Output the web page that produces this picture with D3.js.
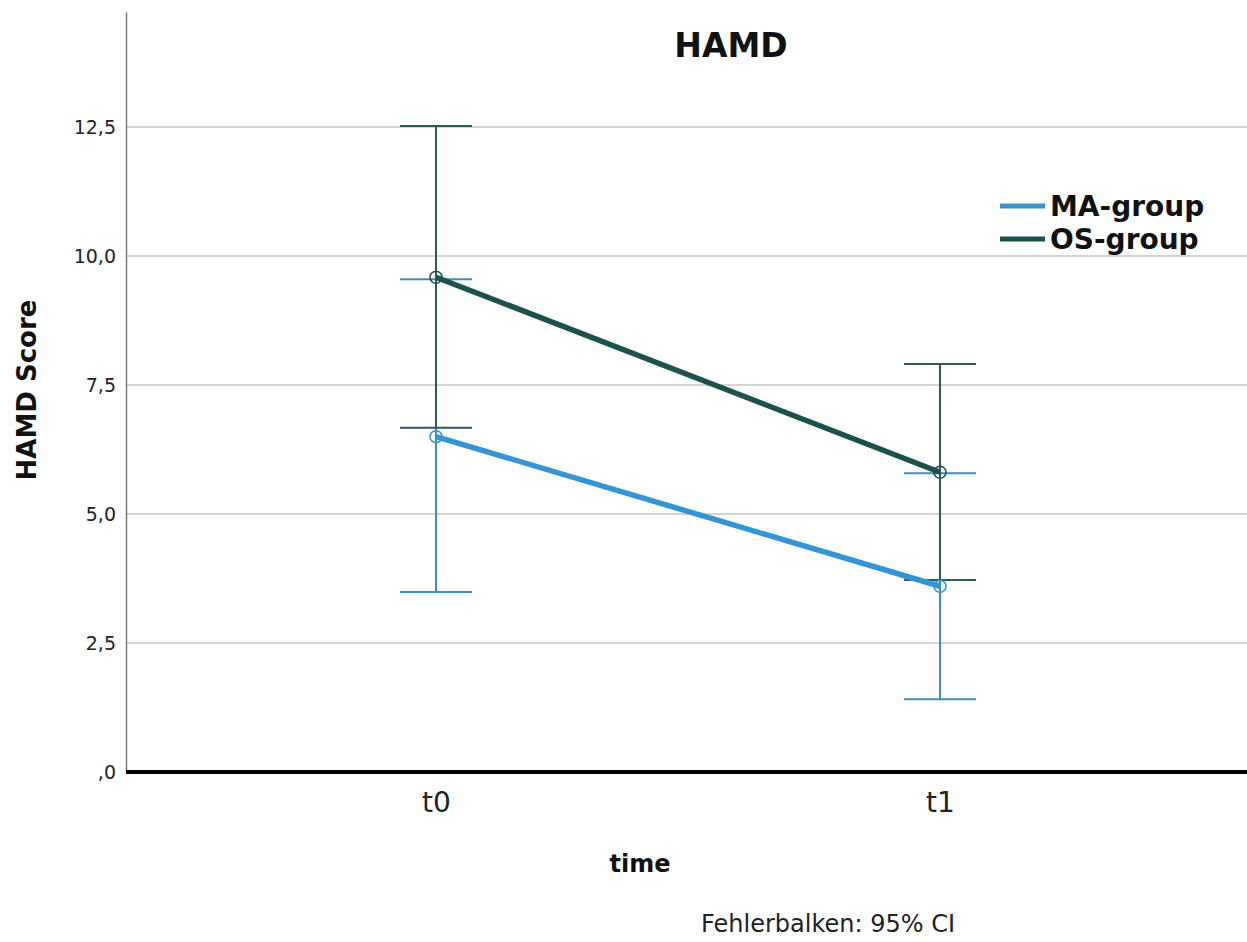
<!DOCTYPE html>
<html lang="en">
<head>
<title>HAMD</title>
<meta charset="utf-8">
<script src="https://cdn.jsdelivr.net/npm/d3@7"></script>
<style type="text/css">
body { margin: 0; background: #fff; font-family: "DejaVu Sans", sans-serif; }
</style>
</head>
<body>
<div id="vis"></div>
<script>

/* Data */
var times = ['t0', 't1'];
var groups = ['MA-group', 'OS-group'];
var maMean = [6.5, 3.6];
var maLow = [3.49, 1.41];
var maHigh = [9.55, 5.79];
var osMean = [9.59, 5.81];
var osLow = [6.67, 3.72];
var osHigh = [12.52, 7.91];
var yTicks = [0, 2.5, 5, 7.5, 10, 12.5];

var colors = { line: ['#3394d6', '#1b524e'], bar: ['#3b8fb3', '#2e5a5a'] };

var width = 1247, height = 942;
var svg = d3.select('#vis').append('svg').attr('width', width).attr('height', height);

var x = d3.scalePoint().domain(times).range([436, 940]);
var y = d3.scaleLinear().domain([0, 14.73]).range([772, 12]);

// gridlines
svg.append('g').selectAll('line').data(yTicks.filter(function(d) { return d > 0; }))
	.enter().append('line')
		.attr('x1', 126).attr('x2', width)
		.attr('y1', function(d) { return y(d); }).attr('y2', function(d) { return y(d); })
		.attr('stroke', '#c6c6c6').attr('stroke-width', 1.5);

// y axis
var fmt = function(d) { return d === 0 ? ',0' : d3.format('.1f')(d).replace('.', ','); };
var yAxis = svg.append('g').attr('transform', 'translate(126,0)')
	.call(d3.axisLeft(y).tickValues(yTicks).tickFormat(fmt).tickSize(0).tickPadding(10));
yAxis.select('.domain').attr('stroke', '#777').attr('stroke-width', 1.5);
yAxis.selectAll('text').attr('font-size', 19).attr('fill', '#222')
	.attr('font-family', '"DejaVu Sans", sans-serif');

// x axis
var xAxis = svg.append('g').attr('transform', 'translate(0,772)')
	.call(d3.axisBottom(x).tickSize(0).tickPadding(20));
xAxis.select('.domain').remove();
svg.append('line').attr('x1', 126).attr('x2', width).attr('y1', 772).attr('y2', 772)
	.attr('stroke', '#000').attr('stroke-width', 4);
xAxis.selectAll('text').attr('font-size', 28).attr('fill', '#222')
	.attr('font-family', '"DejaVu Sans", sans-serif');

// series
var series = [
	{ mean: maMean, low: maLow, high: maHigh, i: 0 },
	{ mean: osMean, low: osLow, high: osHigh, i: 1 }
];

series.forEach(function(s) {
	var g = svg.append('g');
	times.forEach(function(t, k) {
		var cx = x(t);
		g.append('line').attr('x1', cx).attr('x2', cx)
			.attr('y1', y(s.low[k])).attr('y2', y(s.high[k]))
			.attr('stroke', colors.bar[s.i]).attr('stroke-width', 2);
		[s.low[k], s.high[k]].forEach(function(v) {
			g.append('line').attr('x1', cx - 36).attr('x2', cx + 36)
				.attr('y1', y(v)).attr('y2', y(v))
				.attr('stroke', colors.bar[s.i]).attr('stroke-width', 2);
		});
	});
});

series.forEach(function(s) {
	var line = d3.line().x(function(d, k) { return x(times[k]); }).y(function(d) { return y(d); });
	svg.append('path').datum(s.mean).attr('d', line)
		.attr('fill', 'none').attr('stroke', colors.line[s.i]).attr('stroke-width', 5.5);
	svg.append('g').selectAll('circle').data(s.mean).enter().append('circle')
		.attr('cx', function(d, k) { return x(times[k]); })
		.attr('cy', function(d) { return y(d); })
		.attr('r', 6).attr('fill', 'none')
		.attr('stroke', colors.line[s.i]).attr('stroke-width', 1.5);
});

// legend
groups.forEach(function(name, i) {
	var ly = 206 + i * 33;
	svg.append('line').attr('x1', 1000).attr('x2', 1045).attr('y1', ly).attr('y2', ly)
		.attr('stroke', colors.line[i]).attr('stroke-width', 5);
	svg.append('text').attr('x', 1050).attr('y', ly + 10).text(name)
		.attr('font-size', 28).attr('font-weight', 'bold').attr('fill', '#111');
});

// titles
svg.append('text').attr('x', 731).attr('y', 57).attr('text-anchor', 'middle')
	.attr('font-size', 33).attr('font-weight', 'bold').attr('fill', '#111').text('HAMD');
svg.append('text').attr('transform', 'translate(36,390) rotate(-90)').attr('text-anchor', 'middle')
	.attr('font-size', 26).attr('font-weight', 'bold').attr('fill', '#111').text('HAMD Score');
svg.append('text').attr('x', 640).attr('y', 872).attr('text-anchor', 'middle')
	.attr('font-size', 24).attr('font-weight', 'bold').attr('fill', '#111').text('time');
svg.append('text').attr('x', 955).attr('y', 932).attr('text-anchor', 'end')
	.attr('font-size', 24).attr('fill', '#222').text('Fehlerbalken: 95% CI');

</script>
</body>
</html>
